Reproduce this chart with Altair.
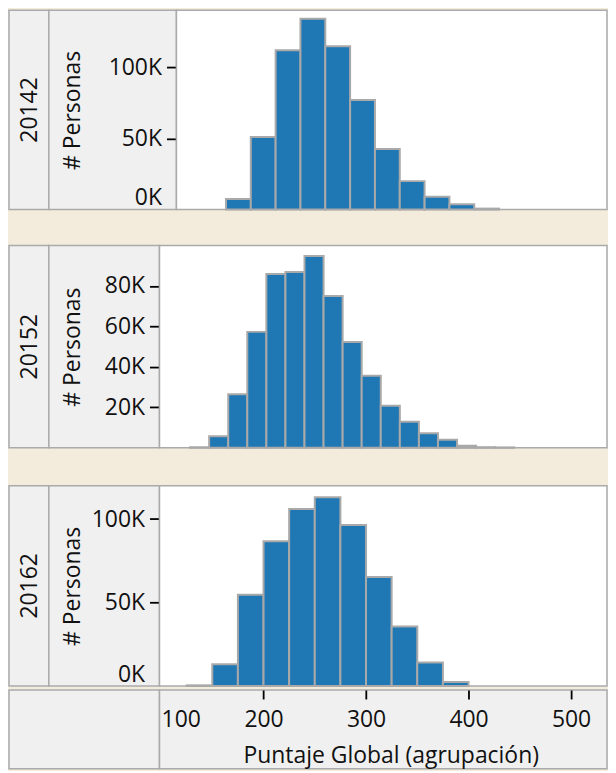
import altair as alt
import pandas as pd

# ---------------- data ----------------
periods = ["20142", "20152", "20162"]
y_title = "# Personas"
x_title = "Puntaje Global (agrupación)"

bins_20142 = [150, 175, 200, 225, 250, 275, 300, 325, 350, 375, 400]
counts_20142 = [7500, 51000, 112000, 134000, 114800, 77000, 42500, 20000, 9000, 3800, 700]

bins_20152 = [130, 150, 170, 190, 210, 230, 250, 270, 290, 310, 330, 350, 370, 390, 410, 430, 450]
counts_20152 = [300, 5700, 26500, 57300, 85900, 86900, 94800, 75000, 52300, 35600,
                20800, 12900, 7200, 4000, 1000, 300, 200]

bins_20162 = [125, 150, 175, 200, 225, 250, 275, 300, 325, 350, 375]
counts_20162 = [400, 13100, 54600, 86700, 106000, 113100, 96400, 65300, 35700, 14100, 2400]

bin_size = [25, 20, 25]

y_tick_values = [[0, 50000, 100000], [20000, 40000, 60000, 80000], [0, 50000, 100000]]
x_tick_values = [100, 200, 300, 400, 500]

# ---------------- style / layout ----------------
FONT = "Open Sans"
FS = 23
TXT = "#111111"
BEIGE = "#f3ecdc"
GRAY = "#f0f0f0"
BORDER = "#aaaaaa"
BAR = "#1f77b4"
BAR_STROKE = "#a9a9a9"

HEADER_W = 40
AXIS_W = [128, 111, 111]
PLOT_W = [432, 449, 449]
PANEL_H = [200, 203, 201]
GAP1 = 33
GAP2 = 35
BOTTOM_H = 79
X_DOMAIN = [[100.1, 533.7], [97.9, 567.3], [98.5, 535.1]]
Y_MAX = [140000, 100000, 120000]

series = [(bins_20142, counts_20142), (bins_20152, counts_20152), (bins_20162, counts_20162)]
frames = []
for i, (b, c) in enumerate(series):
    frames.append(pd.DataFrame({"start": b, "end": [v + bin_size[i] for v in b], "count": c}))


def view(fill):
    return alt.ViewBackground(fill=fill, stroke=BORDER, strokeWidth=1.5)


def make_panel(i):
    df = frames[i]
    h = PANEL_H[i]
    header = alt.Chart(pd.DataFrame({"p": [periods[i]]})).mark_text(
        angle=270, font=FONT, fontSize=FS, color=TXT, align="center", baseline="middle"
    ).encode(
        text="p:N", x=alt.value(21), y=alt.value(h / 2)
    ).properties(width=HEADER_W, height=h, view=view(GRAY))

    yscale = alt.Scale(domain=[0, Y_MAX[i]], nice=False, zero=True)
    title_x = 72 - (8 + HEADER_W + AXIS_W[i])
    yaxis = alt.Chart(df).mark_point(opacity=0, size=0, strokeWidth=0).encode(
        y=alt.Y(
            "count:Q",
            scale=yscale,
            axis=alt.Axis(
                orient="left",
                offset=-AXIS_W[i],
                values=y_tick_values[i],
                labelExpr="datum.value / 1000 + 'K'",
                labelFont=FONT,
                labelFontSize=FS,
                labelColor=TXT,
                labelPadding=5,
                labelFlush=True,
                tickSize=10,
                tickColor="#000000",
                tickWidth=1.8,
                tickOpacity={"condition": {"test": "datum.value === 0", "value": 0}, "value": 1},
                domain=False,
                grid=False,
                title=y_title,
                titleFont=FONT,
                titleFontSize=FS,
                titleFontWeight="normal",
                titleColor=TXT,
                titleAngle=270,
                titleAlign="center",
                titleBaseline="middle",
                titleX=title_x,
                titleY=h / 2,
            ),
        )
    ).properties(width=AXIS_W[i], height=h, view=view(GRAY))

    plot = alt.Chart(df).mark_bar(color=BAR, stroke=BAR_STROKE, strokeWidth=2).encode(
        x=alt.X("start:Q", scale=alt.Scale(domain=X_DOMAIN[i], nice=False, zero=False), axis=None),
        x2="end:Q",
        y=alt.Y("count:Q", scale=yscale, axis=None),
        y2=alt.datum(0),
    ).properties(width=PLOT_W[i], height=h, view=view("#ffffff"))

    return alt.hconcat(header, yaxis, plot, spacing=0, bounds="flush").resolve_scale(
        x="independent", y="independent"
    )


corner = alt.Chart(pd.DataFrame({"t": [""]})).mark_text().encode(
    text="t:N"
).properties(width=HEADER_W + AXIS_W[2], height=BOTTOM_H, view=view(GRAY))

xaxis = alt.Chart(frames[2]).mark_point(opacity=0, size=0, strokeWidth=0).encode(
    x=alt.X(
        "start:Q",
        scale=alt.Scale(domain=X_DOMAIN[2], nice=False, zero=False),
        axis=alt.Axis(
            orient="bottom",
            offset=-BOTTOM_H,
            values=x_tick_values,
            format="d",
            labelFont=FONT,
            labelFontSize=FS,
            labelColor=TXT,
            labelPadding=10,
            labelFlush=4,
            tickSize=9,
            tickColor="#000000",
            tickWidth=1.8,
            tickOpacity={"condition": {"test": "datum.value === 100", "value": 0}, "value": 1},
            domain=False,
            grid=False,
            title=x_title,
            titleFont=FONT,
            titleFontSize=FS,
            titleFontWeight="normal",
            titleColor=TXT,
            titleAlign="center",
            titleBaseline="alphabetic",
            titleX=232,
            titleY=73,
        ),
    )
).properties(width=PLOT_W[2], height=BOTTOM_H, view=view(GRAY))

bottom = alt.hconcat(corner, xaxis, spacing=0, bounds="flush").resolve_scale(
    x="independent", y="independent"
)

lower = alt.vconcat(make_panel(2), bottom, spacing=0).resolve_scale(
    x="independent", y="independent"
)
middle = alt.vconcat(make_panel(1), lower, spacing=GAP2).resolve_scale(
    x="independent", y="independent"
)

chart = alt.vconcat(
    make_panel(0),
    middle,
    spacing=GAP1,
).resolve_scale(x="independent", y="independent").properties(background=BEIGE, padding=0)

chart.save("out.html", embed_options={"renderer": "svg", "actions": False})
